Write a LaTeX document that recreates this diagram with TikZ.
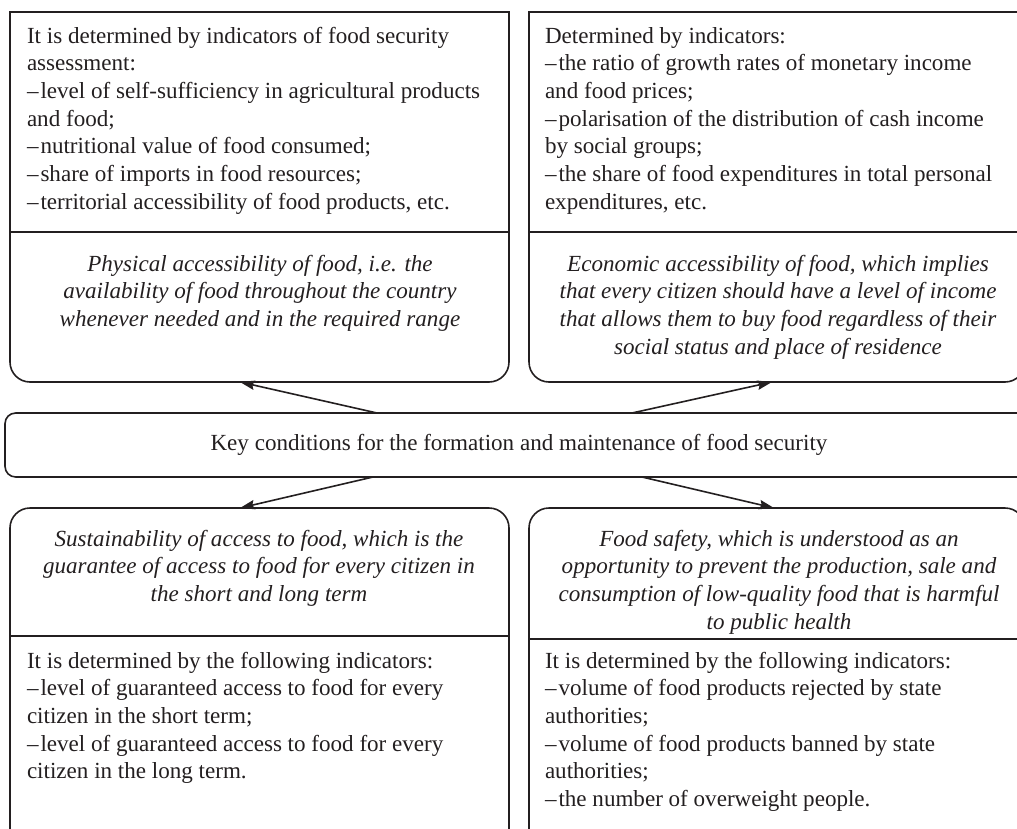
\documentclass[tikz,border=0pt]{standalone}
\usepackage{fontspec}
\setmainfont{Liberation Serif}
\usetikzlibrary{arrows.meta}
\newdimen\pxu \pxu=0.75pt
\definecolor{ink}{RGB}{35,31,32}
\newcommand{\dsh}{--\kern1.5pt}

\begin{document}
\begin{tikzpicture}[x=\pxu, y=-\pxu, color=ink, line width=1.2pt,
  every node/.style={inner sep=0pt, outer sep=0pt},
  area/.style={rectangle, minimum width=#1},
  lbl/.style={font=\fontsize{17.3}{20.8}\selectfont, align=left, anchor=north west},
  itl/.style={font=\fontsize{17.3}{20.8}\selectfont\itshape, align=center, anchor=north},
  keybox/.style={draw, rounded corners=8pt, font=\fontsize{17.3}{20.8}\selectfont},
  arr/.style={-{Stealth[length=11pt, width=7pt, inset=1.5pt]}, line width=1.2pt}]

\useasboundingbox (0,0) rectangle (1017,828);
\clip (0,0) rectangle (1017,828);

% box areas
\node[area=499*\pxu, minimum height=370*\pxu] (b1) at (259.5,197) {};
\node[area=496*\pxu, minimum height=370*\pxu] (b2) at (777,197) {};
\node[area=499*\pxu, minimum height=332*\pxu] (b3) at (259.5,674) {};
\node[area=496*\pxu, minimum height=332*\pxu] (b4) at (777,674) {};

% central box
\node[keybox, minimum width=1028*\pxu, minimum height=64*\pxu] (key) at (519,445)
  {Key conditions for the formation and maintenance of food security};

% outlines of the upper boxes: square top, rounded bottom
\foreach \b in {b1,b2}{
  \draw[rounded corners=15pt] (\b.west) -- (\b.south west) -- (\b.south east) -- (\b.east);
  \draw (\b.west) -- (\b.north west) -- (\b.north east) -- (\b.east);
  \draw (\b.west |- 0,232) -- (\b.east |- 0,232);
}
% outlines of the lower boxes: rounded top
\foreach \b in {b3,b4}{
  \draw[rounded corners=15pt] (\b.west) -- (\b.north west) -- (\b.north east) -- (\b.east);
  \draw (\b.west) -- (\b.south west) -- (\b.south east) -- (\b.east);
}
\draw (b3.west |- 0,636) -- (b3.east |- 0,636);
\draw (b4.west |- 0,639) -- (b4.east |- 0,639);

% texts
\node[lbl] (t1) at (27,23.6) {\strut It is determined by indicators of food security\\
assessment:\\
\dsh level of self-sufficiency in agricultural products\\
and food;\\
\dsh nutritional value of food consumed;\\
\dsh share of imports in food resources;\\
\dsh territorial accessibility of food products, etc.};

\node[lbl] (t2) at (545,23.6) {\strut Determined by indicators:\\
\dsh the ratio of growth rates of monetary income\\
and food prices;\\
\dsh polarisation of the distribution of cash income\\
by social groups;\\
\dsh the share of food expenditures in total personal\\
expenditures, etc.};

\node[itl] (i1) at (260,251.6) {\strut Physical accessibility of food, i.e. the\\
availability of food throughout the country\\
whenever needed and in the required range};

\node[itl] (i2) at (778,251.6) {\strut Economic accessibility of food, which implies\\
that every citizen should have a level of income\\
that allows them to buy food regardless of their\\
social status and place of residence};

\node[itl] (i3) at (259,526.6) {\strut Sustainability of access to food, which is the\\
guarantee of access to food for every citizen in\\
the short and long term};

\node[itl] (i4) at (779,526.6) {\strut Food safety, which is understood as an\\
opportunity to prevent the production, sale and\\
consumption of low-quality food that is harmful\\
to public health};

\node[lbl] (t3) at (27,648.6) {\strut It is determined by the following indicators:\\
\dsh level of guaranteed access to food for every\\
citizen in the short term;\\
\dsh level of guaranteed access to food for every\\
citizen in the long term.};

\node[lbl] (t4) at (545,648.6) {\strut It is determined by the following indicators:\\
\dsh volume of food products rejected by state\\
authorities;\\
\dsh volume of food products banned by state\\
authorities;\\
\dsh the number of overweight people.};

% connectors
\draw[arr] (key.north -| 377,0) -- (b1.south -| 240,0);
\draw[arr] (key.north -| 632,0) -- (b2.south -| 772,0);
\draw[arr] (key.south -| 373,0) -- (b3.north -| 240,0);
\draw[arr] (key.south -| 642,0) -- (b4.north -| 774,0);
\end{tikzpicture}
\end{document}
